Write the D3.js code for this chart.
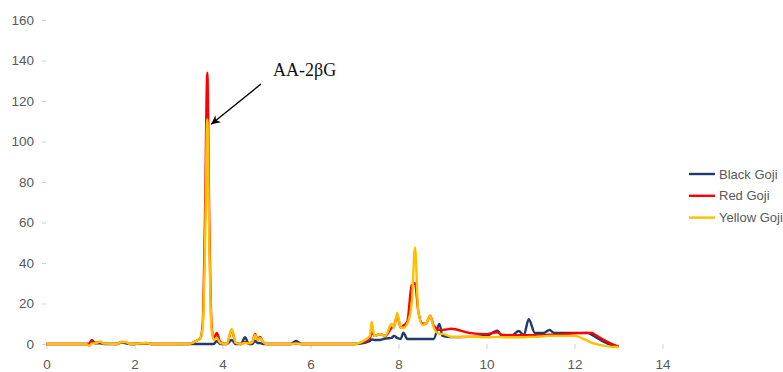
<!DOCTYPE html>
<html>
<head>
<meta charset="utf-8">
<script src="https://cdn.jsdelivr.net/npm/d3@7"></script>
<style>
  body { margin: 0; background: #fff; }
  text { font-family: "Liberation Sans", Arial, sans-serif; }
</style>
</head>
<body>
<div id="plot"></div>
<script>
// retention time (min)
const time = [0, 0.9, 0.97, 1.03, 1.1, 1.22, 1.3, 1.6, 1.7, 1.8, 1.9, 2.28, 2.4, 3.2, 3.4, 3.5, 3.55, 3.6, 3.655, 3.7,
  3.75, 3.8, 3.87, 3.95, 4.1, 4.21, 4.3, 4.42, 4.51, 4.6, 4.68, 4.74, 4.8, 4.85, 4.92, 5.0, 5.55, 5.67, 5.8, 7.0,
  7.2, 7.35, 7.39, 7.45, 7.58, 7.7, 7.84, 7.9, 7.97, 8.05, 8.11, 8.2, 8.3, 8.375, 8.45, 8.55, 8.62, 8.72, 8.8, 8.93,
  9.0, 9.2, 9.6, 10.0, 10.25, 10.35, 10.6, 10.73, 10.85, 10.96, 11.1, 11.3, 11.43, 11.55, 12.0, 12.3, 12.4, 12.45, 12.96, 13.0];

const blackGoji = [0, 0, 0, 2, 0.3, 0.3, 0, 0, 0.8, 0.3, 0, 0.3, 0, 0, 0, 0, 0, 0, 0, 0,
  0, 0, 1.5, 0, 0, 2, 0, 0, 3.3, 0, 0, 1.5, 0.5, 0.5, 0, 0, 0, 1.5, 0, 0,
  0.5, 1.5, 2.3, 2, 2, 2.7, 3, 4, 3, 2.5, 5.6, 2.5, 2.5, 2.5, 2.5, 2.5, 2.5, 2.5, 2.5, 9.9,
  4, 3.4, 3.5, 4, 6.6, 4, 4.5, 6.4, 4.5, 12.2, 5.4, 5.4, 6.9, 5.4, 5.5, 5.4, 4.5, 3.8, -1, -1];

const redGoji = [0, 0, 0, 1.5, 0.5, 1, 0.2, 0, 1, 0.8, 0, 0.5, 0, 0, 1.5, 3, 10, 60, 134, 60,
  10, 2.5, 5.4, 1, 0, 7, 0.5, 0, 1, 0.3, 1, 5, 2, 3.5, 1, 0, 0, 0.3, 0, 0,
  1, 3, 6, 4, 4.8, 4, 8, 9, 14, 8, 9, 11, 29, 30, 16, 10, 10, 14, 9, 7,
  7, 7.5, 5.5, 4.9, 5.8, 4.5, 4.4, 4.4, 4.4, 4.4, 4.4, 4.4, 4.6, 4.6, 5.3, 5.5, 5.5, 4.8, -1, -1.3];

const yellowGoji = [0, 0, -1, 0.3, 0.3, 1.2, 0.2, 0, 1, 1, 0, 0.5, 0, 0, 1.5, 3, 8, 45, 111, 50,
  8, 2, 3, 0.5, 0, 7.4, 0.5, 0, 0.5, 0.3, 1, 4.5, 2, 3, 1, 0, 0, 0.3, 0, 0,
  1.5, 4, 11, 4, 4.8, 4, 10, 8, 15.5, 8, 8, 10, 20, 47.7, 16, 9.4, 10, 13.8, 8, 5,
  5, 3.6, 3.6, 3.3, 3.5, 3.3, 3.3, 3.3, 3.3, 3.5, 3.5, 3.8, 4, 4, 4, 1.5, 0.5, 0.2, -1.5, -1.5];

const seriesNames = ["Black Goji", "Red Goji", "Yellow Goji"];
const seriesColors = ["#1f3b6b", "#ff0000", "#ffc000"];
const xTicks = [0, 2, 4, 6, 8, 10, 12, 14];
const yTicks = [0, 20, 40, 60, 80, 100, 120, 140, 160];
const peakLabel = "AA-2βG";

const width = 783, height = 372;
const svg = d3.select("#plot").append("svg")
  .attr("width", width)
  .attr("height", height);

const x = d3.scaleLinear().domain([0, 14]).range([46.5, 662.5]);
const y = d3.scaleLinear().domain([0, 160]).range([344, 20]);

// y axis: labels + little grey ticks, no line
const yAxis = svg.append("g")
  .attr("transform", "translate(46,0)")
  .call(d3.axisLeft(y).tickValues(yTicks).tickSize(4).tickPadding(8));
yAxis.select(".domain").remove();
yAxis.selectAll(".tick line").attr("stroke", "#d0d0d0");
yAxis.selectAll(".tick text").attr("fill", "#595959").style("font-size", "13.5px");

// x axis
const xAxis = svg.append("g")
  .attr("transform", "translate(0,344)")
  .call(d3.axisBottom(x).tickValues(xTicks).tickSize(5).tickPadding(10));
xAxis.select(".domain").remove();
xAxis.selectAll(".tick line").attr("stroke", "#d0d0d0");
xAxis.selectAll(".tick text").attr("fill", "#595959").style("font-size", "13.5px");

const line = d3.line()
  .x(d => x(d[0]))
  .y(d => y(d[1]))
  .curve(d3.curveMonotoneX);

[blackGoji, redGoji, yellowGoji].forEach((vals, i) => {
  svg.append("path")
    .datum(time.map((t, j) => [t, vals[j]]))
    .attr("fill", "none")
    .attr("stroke", seriesColors[i])
    .attr("stroke-width", 2.4)
    .attr("stroke-linejoin", "round")
    .attr("d", line);
});

// annotation
svg.append("defs").append("marker")
  .attr("id", "arrow")
  .attr("viewBox", "0 0 10 10")
  .attr("refX", 10).attr("refY", 5)
  .attr("markerWidth", 11).attr("markerHeight", 9)
  .attr("markerUnits", "userSpaceOnUse")
  .attr("orient", "auto")
  .append("path")
  .attr("d", "M0,0 L10,5 L0,10 L3,5 Z")
  .attr("fill", "#000");

svg.append("line")
  .attr("x1", 261).attr("y1", 84)
  .attr("x2", x(3.72) + 1).attr("y2", y(108.5))
  .attr("stroke", "#000")
  .attr("stroke-width", 1.4)
  .attr("marker-end", "url(#arrow)");

svg.append("text")
  .attr("x", 273).attr("y", 76)
  .style("font-family", "'Liberation Serif', 'Times New Roman', serif")
  .style("font-size", "18px")
  .attr("fill", "#111")
  .text(peakLabel);

// legend
const legend = svg.append("g");
seriesNames.forEach((name, i) => {
  const ly = 174 + i * 21.8;
  legend.append("line")
    .attr("x1", 689).attr("x2", 715)
    .attr("y1", ly).attr("y2", ly)
    .attr("stroke", seriesColors[i])
    .attr("stroke-width", 2.4);
  legend.append("text")
    .attr("x", 719).attr("y", ly)
    .attr("dy", "0.35em")
    .attr("fill", "#595959")
    .style("font-size", "13px")
    .text(name);
});
</script>
</body>
</html>
